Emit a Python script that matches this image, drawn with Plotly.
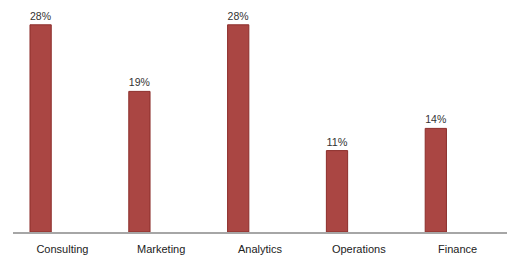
import plotly.graph_objects as go

categories = ["Consulting", "Marketing", "Analytics", "Operations", "Finance"]
values = [28, 19, 28, 11, 14]
labels = ["28%", "19%", "28%", "11%", "14%"]

fig = go.Figure()
fig.add_trace(go.Bar(
    x=categories, y=values, text=labels,
    textposition="outside", cliponaxis=False,
    textfont=dict(family="Liberation Sans", size=11, color="#333333"),
    marker=dict(color="#AA4643", line=dict(color="#8C2E2B", width=1)),
    width=0.215, offset=-0.328,
))
fig.update_layout(
    width=520, height=260,
    margin=dict(l=13, r=13, t=10, b=28),
    paper_bgcolor="white", plot_bgcolor="white",
    showlegend=False,
    xaxis=dict(showline=True, linecolor="#A6A6A6", linewidth=2, ticks="",
               ticklabelstandoff=6, automargin=False,
               showgrid=False, tickfont=dict(family="Liberation Sans", size=11, color="#222222"),
               range=[-0.5, 4.5]),
    yaxis=dict(range=[0, 30], visible=False, showgrid=False, zeroline=False, automargin=False),
)
fig.write_html("out.html")
